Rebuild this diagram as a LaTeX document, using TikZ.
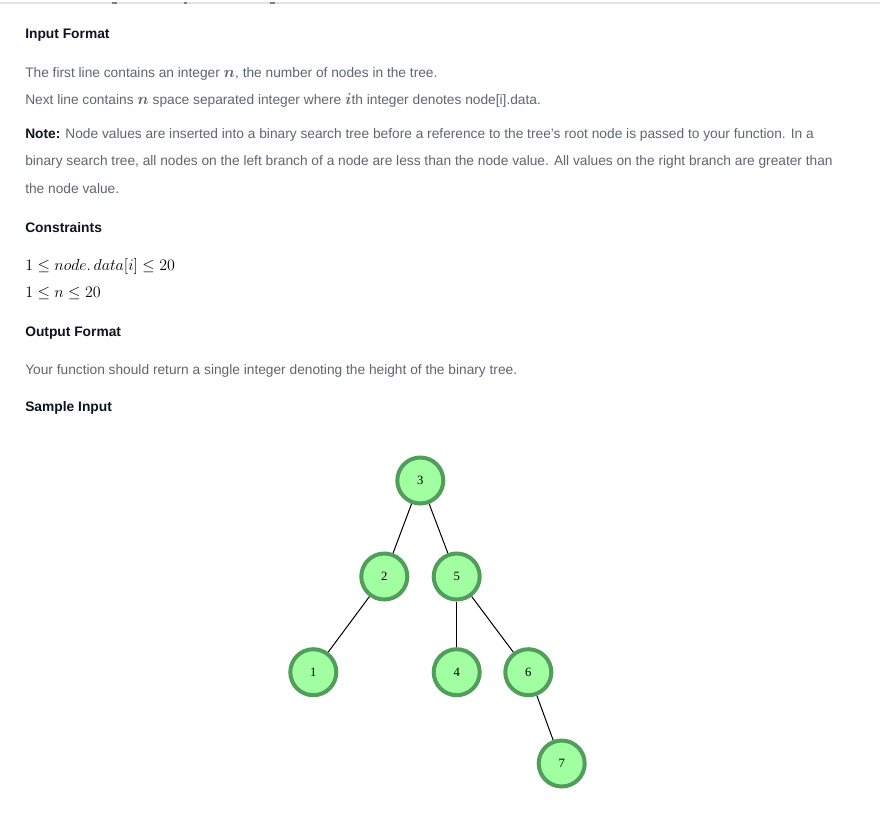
\documentclass[tikz,border=0pt]{standalone}
\usepackage{amsmath}
\usepackage{fontspec}
\setmainfont{Liberation Sans}
\newfontfamily\numfont{Liberation Serif}
\definecolor{bodygray}{HTML}{5E6670}
\definecolor{headblack}{HTML}{0E141E}
\definecolor{nodefill}{HTML}{A1FFA1}
\definecolor{nodedraw}{HTML}{519E5B}
\definecolor{rulegray}{HTML}{E2E2E2}
\newcommand{\inmath}[1]{{\fontsize{11.5pt}{12pt}\selectfont$\boldsymbol{#1}$}}
\begin{document}
\begin{tikzpicture}[x=0.75pt,y=-0.75pt,
  head/.style={anchor=base west,inner sep=0,text=headblack,font=\fontsize{10.35pt}{12pt}\selectfont\bfseries},
  body/.style={anchor=base west,inner sep=0,text=bodygray,font=\fontsize{10.3pt}{12pt}\selectfont},
  mathline/.style={anchor=base west,inner sep=0,text=black,font=\fontsize{11.5pt}{13pt}\selectfont},
  tnode/.style={circle,draw=nodedraw,fill=nodefill,line width=3pt,minimum size=34.5pt,inner sep=0pt,font=\numfont\fontsize{9.5pt}{10pt}\selectfont},
  tedge/.style={draw=black,line width=0.75pt}]
\useasboundingbox (0,0) rectangle (880,827);
\fill[white] (0,0) rectangle (880,827);
% top rule and cut-off text fragments
\draw[rulegray,line width=1.2pt] (0,3) -- (880,3);
\fill[gray] (112,2.5) rectangle (117,4);
\fill[gray] (184,2.5) rectangle (187,4);
\fill[gray] (270,2.5) rectangle (275,4);
% text
\node[head] (h1) at (25,39) {Input Format};
\node[body] (t1) at (25,77.3) {The first line contains an integer \inmath{n}, the number of nodes in the tree.};
\node[body] (t2) at (25,105) {Next line contains \inmath{n} space separated integer where \inmath{i}th integer denotes node[i].data.};
\node[body] (t3) at (25,138.3) {\textcolor{headblack}{\bfseries Note:} Node values are inserted into a binary search tree before a reference to the tree's root node is passed to your function. In a};
\node[body] (t4) at (25,166) {binary search tree, all nodes on the left branch of a node are less than the node value. All values on the right branch are greater than};
\node[body] (t5) at (25,193.3) {the node value.};
\node[head] (h2) at (25,232.3) {Constraints};
\node[mathline] (m1) at (25,270) {$1\le node.\,data[i]\le 20$};
\node[mathline] (m2) at (25,297.7) {$1\le n\le 20$};
\node[head] (h3) at (25,336) {Output Format};
\node[body] (t6) at (25,374) {Your function should return a single integer denoting the height of the binary tree.};
\node[head] (h4) at (25,411.7) {Sample Input};
% tree
\node[tnode] (n3) at (420.3,480.5) {3};
\node[tnode] (n2) at (384.3,576.5) {2};
\node[tnode] (n5) at (456.7,576.5) {5};
\node[tnode] (n1) at (313.3,672.2) {1};
\node[tnode] (n4) at (456.7,672.2) {4};
\node[tnode] (n6) at (528.3,672.2) {6};
\node[tnode] (n7) at (561.7,763.5) {7};
\draw[tedge] (n3) -- (n2);
\draw[tedge] (n3) -- (n5);
\draw[tedge] (n2) -- (n1);
\draw[tedge] (n5) -- (n4);
\draw[tedge] (n5) -- (n6);
\draw[tedge] (n6) -- (n7);
\end{tikzpicture}
\end{document}
